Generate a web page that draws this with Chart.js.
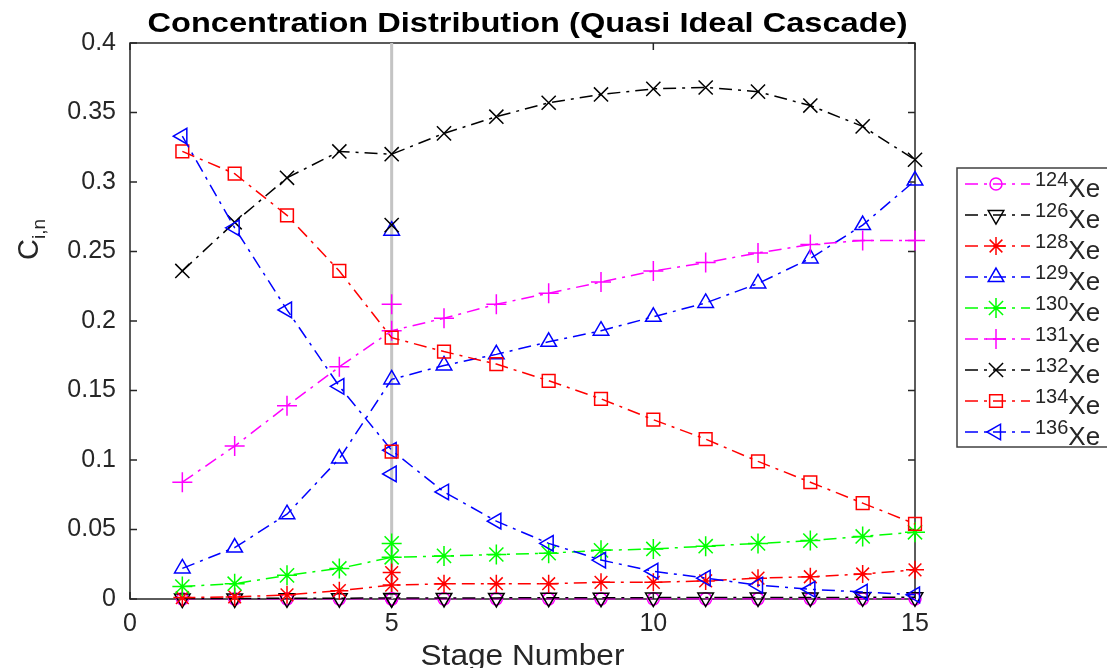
<!DOCTYPE html>
<html>
<head>
<meta charset="utf-8">
<title>Concentration Distribution</title>
<script src="https://cdn.jsdelivr.net/npm/chart.js@4.4.1/dist/chart.umd.min.js"></script>
<style>
    html, body { margin: 0; padding: 0; background: #fff; }
    #wrap { width: 1107px; height: 668px; }
</style>
</head>
<body>
<div id="wrap"><canvas id="concChart" width="1107" height="668"></canvas></div>
<script>
// Data
const stages = [1, 2, 3, 4, 5, 6, 7, 8, 9, 10, 11, 12, 13, 14, 15];
const isotopes = ['124', '126', '128', '129', '130', '131', '132', '134', '136'];

const xe124 = [0.0001, 0.0001, 0.0001, 0.0001, 0.0001, 0.0001, 0.0001, 0.0001, 0.0001, 0.0001, 0.0001, 0.0001, 0.0001, 0.0001, 0.0001];
const xe126 = [0.0003, 0.0004, 0.0005, 0.0006, 0.0007, 0.0008, 0.0008, 0.0009, 0.0009, 0.0010, 0.0010, 0.0011, 0.0011, 0.0012, 0.0012];
const xe128 = [0.001, 0.0015, 0.003, 0.006, 0.010, 0.011, 0.011, 0.011, 0.012, 0.012, 0.013, 0.015, 0.016, 0.018, 0.021];
const xe129 = [0.022, 0.037, 0.061, 0.101, 0.158, 0.168, 0.176, 0.185, 0.193, 0.203, 0.213, 0.227, 0.245, 0.269, 0.301];
const xe130 = [0.009, 0.011, 0.017, 0.022, 0.030, 0.031, 0.032, 0.033, 0.035, 0.036, 0.038, 0.040, 0.042, 0.045, 0.048];
const xe131 = [0.084, 0.110, 0.139, 0.167, 0.193, 0.202, 0.212, 0.220, 0.228, 0.236, 0.242, 0.249, 0.255, 0.258, 0.258];
const xe132 = [0.236, 0.271, 0.303, 0.322, 0.320, 0.335, 0.347, 0.357, 0.363, 0.367, 0.368, 0.365, 0.355, 0.340, 0.316];
const xe134 = [0.322, 0.306, 0.276, 0.236, 0.188, 0.178, 0.169, 0.157, 0.144, 0.129, 0.115, 0.099, 0.084, 0.069, 0.054];
const xe136 = [0.333, 0.267, 0.208, 0.153, 0.107, 0.077, 0.056, 0.040, 0.028, 0.020, 0.015, 0.010, 0.007, 0.005, 0.003];

// feed composition, plotted on its own at the feed stage
const feedStage = 5;
const feedValues = [0.0001, 0.0005, 0.019, 0.265, 0.040, 0.212, 0.269, 0.106, 0.090];

const xTicks = [0, 5, 10, 15];
const yTicks = [0, 0.05, 0.1, 0.15, 0.2, 0.25, 0.3, 0.35, 0.4];

const seriesValues = [xe124, xe126, xe128, xe129, xe130, xe131, xe132, xe134, xe136];

// marker styles, same order as isotopes
const colors = ['#ff00ff', '#000000', '#ff0000', '#0000ff', '#00ff00', '#ff00ff', '#000000', '#ff0000', '#0000ff'];
const markers = ['circle', 'triangle', 'star', 'triangle', 'star', 'cross', 'crossRot', 'rect', 'triangle'];
const rotations = [0, 180, 0, 0, 0, 0, 0, 0, 270];
const radii = [6, 9, 9, 9, 10, 10, 10, 9, 9];

const DASH_DOT = [13, 6, 3, 6];
const TEXT = '#262626';
const FONT = '"Liberation Sans", Arial, Helvetica, sans-serif';

const datasets = [];

// grey marker line at the feed stage
datasets.push({
    label: 'feed',
    data: [{ x: feedStage, y: yTicks[0] }, { x: feedStage, y: yTicks[yTicks.length - 1] }],
    borderColor: '#c4c4c4',
    borderWidth: 3,
    pointRadius: 0,
    order: 100
});

isotopes.forEach(function(iso, i) {
    const style = {
        borderColor: colors[i],
        pointBorderColor: colors[i],
        pointBackgroundColor: 'rgba(0,0,0,0)',
        pointStyle: markers[i],
        pointRotation: rotations[i],
        pointRadius: radii[i],
        pointBorderWidth: 1.5,
        clip: false
    };
    datasets.push(Object.assign({
        label: iso + 'Xe',
        data: stages.map(function(s, k) { return { x: s, y: seriesValues[i][k] }; }),
        borderWidth: 1.5,
        borderDash: DASH_DOT,
        tension: 0,
        order: 50 - i
    }, style));
    datasets.push(Object.assign({
        label: iso + 'Xe feed',
        data: [{ x: feedStage, y: feedValues[i] }],
        showLine: false,
        order: 30 - i
    }, style));
});

// text drawn wider than the font, the figure was stretched sideways
function drawWide(ctx, text, cx, y, width) {
    const w = ctx.measureText(text).width;
    ctx.save();
    ctx.translate(cx, y);
    ctx.scale(width / w, 1);
    ctx.textAlign = 'center';
    ctx.fillText(text, 0, 0);
    ctx.restore();
}

// box, inward ticks, titles and the legend, MATLAB style
const decorPlugin = {
    id: 'decor',
    beforeDatasetsDraw(chart) {
        const ctx = chart.ctx;
        const a = chart.chartArea;
        const xs = chart.scales.x, ys = chart.scales.y;
        ctx.save();
        ctx.strokeStyle = TEXT;
        ctx.lineWidth = 1.5;
        ctx.strokeRect(a.left, a.top, a.right - a.left, a.bottom - a.top);
        ctx.beginPath();
        xTicks.forEach(function(v) {
            const px = xs.getPixelForValue(v);
            ctx.moveTo(px, a.bottom); ctx.lineTo(px, a.bottom - 7);
            ctx.moveTo(px, a.top); ctx.lineTo(px, a.top + 7);
        });
        yTicks.forEach(function(v) {
            const py = ys.getPixelForValue(v);
            ctx.moveTo(a.left, py); ctx.lineTo(a.left + 7, py);
            ctx.moveTo(a.right, py); ctx.lineTo(a.right - 7, py);
        });
        ctx.stroke();
        ctx.restore();
    },
    afterDraw(chart) {
        const ctx = chart.ctx;
        const a = chart.chartArea;
        const cx = (a.left + a.right) / 2;
        ctx.save();
        ctx.fillStyle = '#000';
        ctx.textBaseline = 'alphabetic';
        ctx.font = 'bold 27px ' + FONT;
        drawWide(ctx, 'Concentration Distribution (Quasi Ideal Cascade)', cx + 5, 32, 760);

        ctx.fillStyle = TEXT;
        ctx.font = '29px ' + FONT;
        drawWide(ctx, 'Stage Number', cx, 665, 204);

        // y label C_{i,n}
        ctx.translate(38, 260);
        ctx.rotate(-Math.PI / 2);
        ctx.textAlign = 'left';
        ctx.font = '29px ' + FONT;
        ctx.fillText('C', 0, 0);
        const cw = ctx.measureText('C').width;
        ctx.font = '19px ' + FONT;
        ctx.fillText('i,n', cw, 7);
        ctx.restore();

        // legend
        ctx.save();
        const bx = 957, by = 168, rowH = 31;
        ctx.fillStyle = '#fff';
        ctx.fillRect(bx, by, 200, 279);
        ctx.strokeStyle = '#404040';
        ctx.lineWidth = 1.5;
        ctx.strokeRect(bx, by, 200, 279);
        isotopes.forEach(function(iso, i) {
            const y = by + 16 + i * rowH;
            ctx.strokeStyle = colors[i];
            ctx.lineWidth = 1.5;
            ctx.setLineDash(DASH_DOT);
            ctx.beginPath();
            ctx.moveTo(965, y);
            ctx.lineTo(1030, y);
            ctx.stroke();
            ctx.setLineDash([]);
            ctx.fillStyle = 'rgba(0,0,0,0)';
            if (Chart.helpers && Chart.helpers.drawPoint) {
                Chart.helpers.drawPoint(ctx, {
                    pointStyle: markers[i],
                    rotation: rotations[i],
                    radius: radii[i],
                    borderWidth: 1.5
                }, 996, y);
            }
            ctx.fillStyle = TEXT;
            ctx.textAlign = 'left';
            ctx.font = '20px ' + FONT;
            ctx.fillText(iso, 1035, y + 2);
            const w = ctx.measureText(iso).width;
            ctx.font = '26px ' + FONT;
            ctx.fillText('Xe', 1035 + w, y + 13);
        });
        ctx.restore();
    }
};

new Chart(document.getElementById('concChart'), {
    type: 'line',
    data: { datasets: datasets },
    options: {
        responsive: false,
        animation: false,
        devicePixelRatio: 1,
        layout: { padding: { left: 0, right: 192, top: 43, bottom: 0 } },
        plugins: {
            legend: { display: false },
            tooltip: { enabled: false }
        },
        scales: {
            x: {
                type: 'linear',
                min: xTicks[0],
                max: xTicks[xTicks.length - 1],
                afterBuildTicks: function(scale) {
                    scale.ticks = xTicks.map(function(v) { return { value: v }; });
                },
                afterFit: function(scale) { scale.height = 69; },
                grid: { display: false, drawTicks: false },
                border: { display: false },
                ticks: {
                    padding: 10,
                    maxRotation: 0,
                    color: TEXT,
                    font: { family: FONT, size: 25 }
                }
            },
            y: {
                type: 'linear',
                min: yTicks[0],
                max: yTicks[yTicks.length - 1],
                afterBuildTicks: function(scale) {
                    scale.ticks = yTicks.map(function(v) { return { value: v }; });
                },
                afterFit: function(scale) { scale.width = 130; },
                grid: { display: false, drawTicks: false },
                border: { display: false },
                ticks: {
                    padding: 14,
                    color: TEXT,
                    font: { family: FONT, size: 25 },
                    callback: function(v) { return String(+Number(v).toFixed(2)); }
                }
            }
        }
    },
    plugins: [decorPlugin]
});
</script>
</body>
</html>
